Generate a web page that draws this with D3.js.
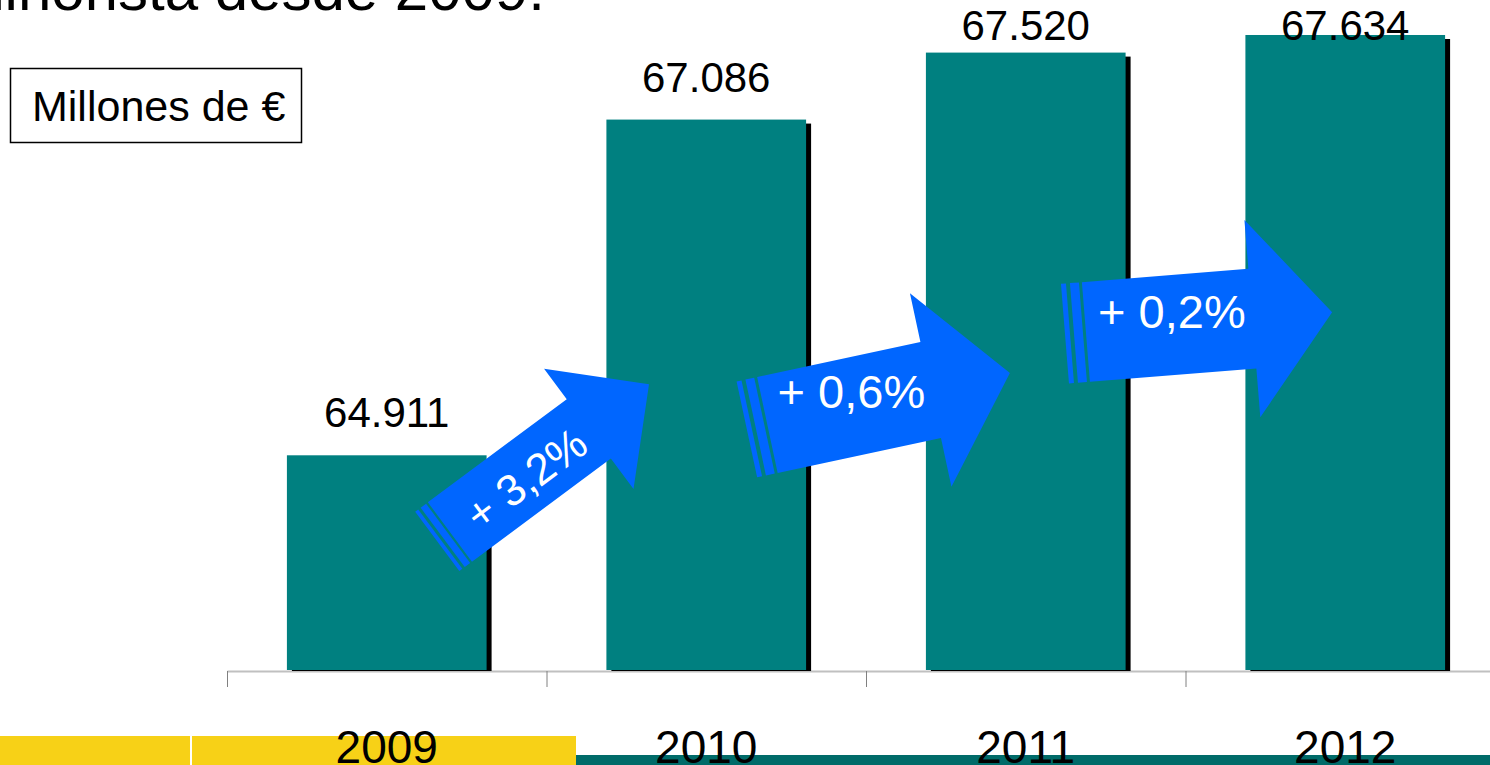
<!DOCTYPE html>
<html>
<head>
<meta charset="utf-8">
<script src="https://cdn.jsdelivr.net/npm/d3@7"></script>
<style>
  body { margin: 0; background: #fff; }
  text { font-family: "Liberation Sans", Arial, sans-serif; }
</style>
</head>
<body>
<div id="chart"></div>
<script>
// Data
var years = ["2009", "2010", "2011", "2012"],
  values = [64911, 67086, 67520, 67634],
  growthLabels = ["+ 3,2%", "+ 0,6%", "+ 0,2%"];

var title = "Evolución del gasto minorista desde 2009.",
  unitLabel = "Millones de €";

// Placement
var width = 1490,
  height = 765,
  axisY = 670;

var es = d3.formatLocale({decimal: ",", thousands: ".", grouping: [3], currency: ["", " €"]});
var fmt = es.format(",");

var x = d3.scaleBand()
  .domain(years)
  .range([227, 1505])
  .paddingInner(0.375)
  .paddingOuter(0.1875);
var y = d3.scaleLinear()
  .domain([63520, 68000])
  .range([axisY, -21.5]);
var xi = d3.scaleLinear()
  .domain([0, years.length])
  .range(x.range());

var svg = d3.select("#chart")
  .append("svg")
  .attr("width", width)
  .attr("height", height);

// title, only its lower part shows
svg.append("text")
  .attr("x", 545)
  .attr("y", 10)
  .attr("text-anchor", "end")
  .attr("font-size", 60)
  .text(title);

// unit box
svg.append("rect")
  .attr("x", 10.5).attr("y", 68.5)
  .attr("width", 291).attr("height", 74)
  .attr("fill", "#fff")
  .attr("stroke", "#000")
  .attr("stroke-width", 1.5);
svg.append("text")
  .attr("x", 32).attr("y", 121)
  .attr("font-size", 43)
  .text(unitLabel);

// axis with ticks between categories
var axis = d3.axisBottom(xi)
  .tickValues(d3.range(years.length + 1))
  .tickSize(16)
  .tickSizeOuter(0)
  .tickFormat("");
var gAxis = svg.append("g")
  .attr("transform", "translate(0," + (axisY + 1) + ")")
  .call(axis);
gAxis.select(".domain").attr("stroke", "#c0c0c0").attr("stroke-width", 2);
gAxis.selectAll(".tick line").attr("stroke", "#808080");

// shadows then bars
svg.append("g").selectAll("rect")
  .data(values)
  .enter().append("rect")
  .attr("x", function(d, i) { return x(years[i]) + 5; })
  .attr("y", function(d) { return y(d) + 4; })
  .attr("width", x.bandwidth())
  .attr("height", function(d) { return axisY + 1 - y(d) - 4; })
  .attr("fill", "#000");

svg.append("g").selectAll("rect")
  .data(values)
  .enter().append("rect")
  .attr("x", function(d, i) { return x(years[i]); })
  .attr("y", function(d) { return y(d); })
  .attr("width", x.bandwidth())
  .attr("height", function(d) { return axisY - y(d); })
  .attr("fill", "#008080");

// value labels
svg.append("g").selectAll("text")
  .data(values)
  .enter().append("text")
  .attr("x", function(d, i) { return x(years[i]) + x.bandwidth() / 2; })
  .attr("y", function(d) { return Math.max(y(d) - 28, 40); })
  .attr("text-anchor", "middle")
  .attr("font-size", 42)
  .text(function(d) { return fmt(d); });

// growth arrows (annotation layout)
var arrowLayout = [
  {dx: 163, ty: 532, angle: -36.6, len: 248, bw: 37, hw: 75, hl: 75, s: 0.75, rot: true, tx: 93, tyy: 18, fs: 44},
  {dx: 161, ty: 425, angle: -12.1, len: 248, bw: 49, hw: 99, hl: 81, s: 1, rot: false, tx: 84, tyy: -17, fs: 47},
  {dx: 160, ty: 332, angle: -4.6, len: 247, bw: 50, hw: 99, hl: 80, s: 1, rot: false, tx: 86, tyy: -4, fs: 47}
];

var line = d3.line();
arrowLayout.forEach(function(a, i) {
  var ox = x(years[i]) + a.dx, oy = a.ty;
  var g = svg.append("g")
    .attr("transform", "translate(" + ox + "," + oy + ")rotate(" + a.angle + ")");
  var k = a.len - a.hl;
  g.append("path")
    .attr("d", line([[0, -a.bw], [k, -a.bw], [k, -a.hw], [a.len, 0], [k, a.hw], [k, a.bw], [0, a.bw]]) + "Z")
    .attr("fill", "#0066ff");
  g.append("rect")
    .attr("x", -12 * a.s).attr("y", -a.bw)
    .attr("width", 9 * a.s).attr("height", 2 * a.bw)
    .attr("fill", "#0066ff");
  g.append("rect")
    .attr("x", -21 * a.s).attr("y", -a.bw)
    .attr("width", 5 * a.s).attr("height", 2 * a.bw)
    .attr("fill", "#0066ff");
  if (a.rot) {
    g.append("text")
      .attr("x", a.tx).attr("y", a.tyy)
      .attr("text-anchor", "middle")
      .attr("font-size", a.fs)
      .attr("fill", "#fff")
      .text(growthLabels[i]);
  } else {
    svg.append("text")
      .attr("x", ox + a.tx).attr("y", oy + a.tyy)
      .attr("text-anchor", "middle")
      .attr("font-size", a.fs)
      .attr("fill", "#fff")
      .text(growthLabels[i]);
  }
});

// bottom strip
svg.append("rect")
  .attr("x", 0).attr("y", 736)
  .attr("width", 576).attr("height", 29)
  .attr("fill", "#f7d117");
svg.append("rect")
  .attr("x", 190).attr("y", 736)
  .attr("width", 2).attr("height", 29)
  .attr("fill", "#fff");
svg.append("rect")
  .attr("x", 576).attr("y", 755)
  .attr("width", width - 576).attr("height", 10)
  .attr("fill", "#006b69");

// year labels
svg.append("g").selectAll("text")
  .data(years)
  .enter().append("text")
  .attr("x", function(d) { return x(d) + x.bandwidth() / 2; })
  .attr("y", 763)
  .attr("text-anchor", "middle")
  .attr("font-size", 46)
  .text(function(d) { return d; });
</script>
</body>
</html>
